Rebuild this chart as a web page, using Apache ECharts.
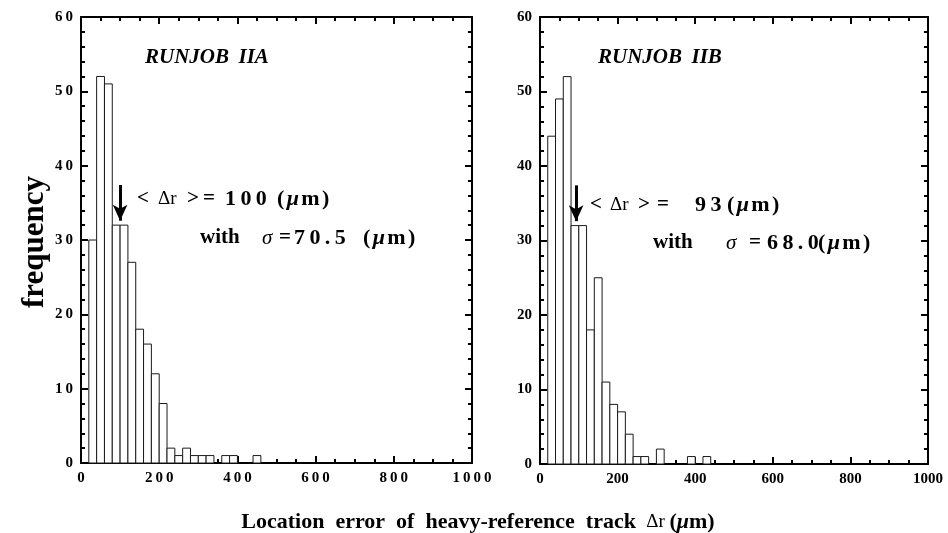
<!DOCTYPE html>
<html>
<head>
<meta charset="utf-8">
<title>RUNJOB location error histograms</title>
<script src="https://cdn.jsdelivr.net/npm/echarts@6.0.0/dist/echarts.min.js"></script>
<style>
  html, body { margin: 0; padding: 0; background: #fff; }
  #chart { width: 948px; height: 533px; }
</style>
</head>
<body>
<div id="chart"></div>
<script>
// Histogram bins (µm): left edge of each 20 µm bin
const binStarts = [0, 20, 40, 60, 80, 100, 120, 140, 160, 180, 200, 220, 240, 260, 280, 300, 320, 340, 360, 380, 400, 420, 440];
const binWidth = 20;

// Counts per bin, RUNJOB IIA
const countsA = [0, 30, 52, 51, 32, 32, 27, 18, 16, 12, 8, 2, 1, 2, 1, 1, 1, 0, 1, 1, 0, 0, 1];
// Counts per bin, RUNJOB IIB
const countsB = [0, 44, 49, 52, 32, 32, 18, 25, 11, 8, 7, 4, 1, 1, 0, 2, 0, 0, 0, 1, 0, 1, 0];

// Mean location error marked by the arrow (µm) and spread
const meanA = 100, sigmaA = '70.5';
const meanB = 93, sigmaB = '68.0';

// Axis ticks
const xTicks = [0, 200, 400, 600, 800, 1000];
const yTicks = [0, 10, 20, 30, 40, 50, 60];

const SERIF = "'Liberation Serif', 'Times New Roman', serif";
const THIN = '\u2009';

function binData(counts) {
  const out = [];
  counts.forEach((c, i) => {
    if (c > 0) out.push([binStarts[i], binStarts[i] + binWidth, c]);
  });
  return out;
}

function spaced(v) { return String(v).split('').join(THIN); }

function renderBin(params, api) {
  const top = api.coord([api.value(0), api.value(2)]);
  const base = api.coord([api.value(1), 0]);
  return {
    type: 'rect',
    shape: { x: top[0], y: top[1], width: base[0] - top[0], height: base[1] - top[1] },
    style: { fill: '#fff', stroke: '#1a1a1a', lineWidth: 1 }
  };
}

function xAxisPair(grid, spacedLabels) {
  const base = {
    gridIndex: grid, type: 'value',
    min: xTicks[0], max: xTicks[xTicks.length - 1], interval: xTicks[1] - xTicks[0],
    splitLine: { show: false },
    axisLine: { show: true, onZero: false, lineStyle: { color: '#000', width: 2 } },
    axisTick: { show: true, inside: true, length: 7, lineStyle: { color: '#000', width: 2 } },
    minorTick: { show: true, splitNumber: 4, length: 4, lineStyle: { color: '#000', width: 2 } }
  };
  return [
    Object.assign({}, base, {
      position: 'bottom',
      axisLabel: {
        show: true, margin: 8, color: '#000', fontFamily: SERIF, fontWeight: 'bold', fontSize: 15,
        formatter: v => spacedLabels ? spaced(v) : String(v)
      }
    }),
    Object.assign({}, base, { position: 'top', axisLabel: { show: false } })
  ];
}

function yAxisPair(grid, spacedLabels) {
  const base = {
    gridIndex: grid, type: 'value',
    min: yTicks[0], max: yTicks[yTicks.length - 1], interval: yTicks[1] - yTicks[0],
    splitLine: { show: false },
    axisLine: { show: true, onZero: false, lineStyle: { color: '#000', width: 2 } },
    axisTick: { show: true, inside: true, length: 7, lineStyle: { color: '#000', width: 2 } },
    minorTick: { show: true, splitNumber: 5, length: 4, lineStyle: { color: '#000', width: 2 } }
  };
  return [
    Object.assign({}, base, {
      position: 'left',
      axisLabel: {
        show: true, margin: 8, color: '#000', fontFamily: SERIF, fontWeight: 'bold', fontSize: 15,
        formatter: v => spacedLabels ? spaced(v) : String(v)
      }
    }),
    Object.assign({}, base, { position: 'right', axisLabel: { show: false } })
  ];
}

// Downward arrow pointing at the mean of the distribution
function arrowSeries(xIdx, yIdx, mean) {
  return {
    type: 'line', xAxisIndex: xIdx, yAxisIndex: yIdx, data: [], silent: true,
    markLine: {
      silent: true, animation: false,
      symbol: ['none', 'arrow'], symbolSize: [11, 16],
      label: { show: false },
      lineStyle: { color: '#000', width: 3, type: 'solid' },
      data: [[{ coord: [mean, 37.4] }, { coord: [mean, 32.6] }]]
    }
  };
}

const rich = {
  b: { fontFamily: SERIF, fontWeight: 'bold', fontSize: 21, color: '#000' },
  d: { fontFamily: SERIF, fontWeight: 'normal', fontSize: 19, color: '#000' },
  n: { fontFamily: SERIF, fontWeight: 'bold', fontSize: 22, color: '#000' },
  s: { fontFamily: SERIF, fontStyle: 'italic', fontWeight: 'normal', fontSize: 21, color: '#000' },
  mu: { fontFamily: SERIF, fontStyle: 'italic', fontWeight: 'bold', fontSize: 22, color: '#000' }
};

const UNIT = '{n|(}' + THIN + '{mu|μ}' + THIN + '{n|m}' + THIN + '{n|)}';

// One annotation line made of separately placed pieces [left, richText]
function textLine(yc, pieces) {
  return pieces.map(p => ({
    type: 'text', x: p[0], y: yc, z: 10,
    style: { text: p[1], rich: rich, verticalAlign: 'middle', align: 'left' }
  }));
}

const chart = echarts.init(document.getElementById('chart'), null, { renderer: 'canvas' });

chart.setOption({
  animation: false,
  backgroundColor: '#fff',
  grid: [
    { left: 81, right: 476, top: 17, bottom: 70 },
    { left: 540, right: 20, top: 17, bottom: 69 }
  ],
  xAxis: [].concat(xAxisPair(0, true), xAxisPair(1, false)),
  yAxis: [].concat(yAxisPair(0, true), yAxisPair(1, false)),
  series: [
    {
      type: 'custom', name: 'RUNJOB IIA', xAxisIndex: 0, yAxisIndex: 0,
      renderItem: renderBin, encode: { x: [0, 1], y: 2 }, data: binData(countsA)
    },
    {
      type: 'custom', name: 'RUNJOB IIB', xAxisIndex: 2, yAxisIndex: 2,
      renderItem: renderBin, encode: { x: [0, 1], y: 2 }, data: binData(countsB)
    },
    arrowSeries(0, 0, meanA),
    arrowSeries(2, 2, meanB)
  ],
  graphic: [].concat(
    [
      {
        type: 'text', left: 145, top: 47,
        style: { text: 'RUNJOB \u2009IIA', font: 'italic bold 21px ' + SERIF, fill: '#000' }
      },
      {
        type: 'text', left: 598, top: 47,
        style: { text: 'RUNJOB \u2009IIB', font: 'italic bold 21px ' + SERIF, fill: '#000' }
      }
    ],
    textLine(199, [
      [137, '{b|<}'], [158, '{d|Δr}'], [187, '{b|>}'], [203, '{b|=}'],
      [225, '{n|' + spaced(meanA) + '}'], [277, UNIT]
    ]),
    textLine(238, [
      [200, '{b|with}'], [262, '{s|σ}'], [279, '{b|=}'],
      [294, '{n|' + spaced(sigmaA) + '}'], [363, UNIT]
    ]),
    textLine(205, [
      [590, '{b|<}'], [610, '{d|Δr}'], [638, '{b|>}'], [657, '{b|=}'],
      [695, '{n|' + spaced(meanB) + '}'], [727, UNIT]
    ]),
    textLine(243, [
      [653, '{b|with}'], [726, '{s|σ}'], [749, '{b|=}'],
      [767, '{n|' + spaced(sigmaB) + '}'], [818, UNIT]
    ]),
    [
      {
        type: 'text', x: 35, y: 242, rotation: Math.PI / 2,
        style: {
          text: 'frequency', font: 'bold 31px ' + SERIF, fill: '#000',
          align: 'center', verticalAlign: 'middle'
        }
      },
      {
        type: 'text', x: 478, y: 522,
        style: {
          text: '{t|Location  error  of  heavy-reference  track }{d| Δr }{t|(}{mu|μ}{t|m)}',
          align: 'center', verticalAlign: 'middle',
          rich: {
            t: { fontFamily: SERIF, fontWeight: 'bold', fontSize: 22, color: '#000' },
            d: { fontFamily: SERIF, fontWeight: 'normal', fontSize: 19, color: '#000' },
            mu: { fontFamily: SERIF, fontStyle: 'italic', fontWeight: 'bold', fontSize: 22, color: '#000' }
          }
        }
      }
    ]
  )
});
</script>
</body>
</html>
